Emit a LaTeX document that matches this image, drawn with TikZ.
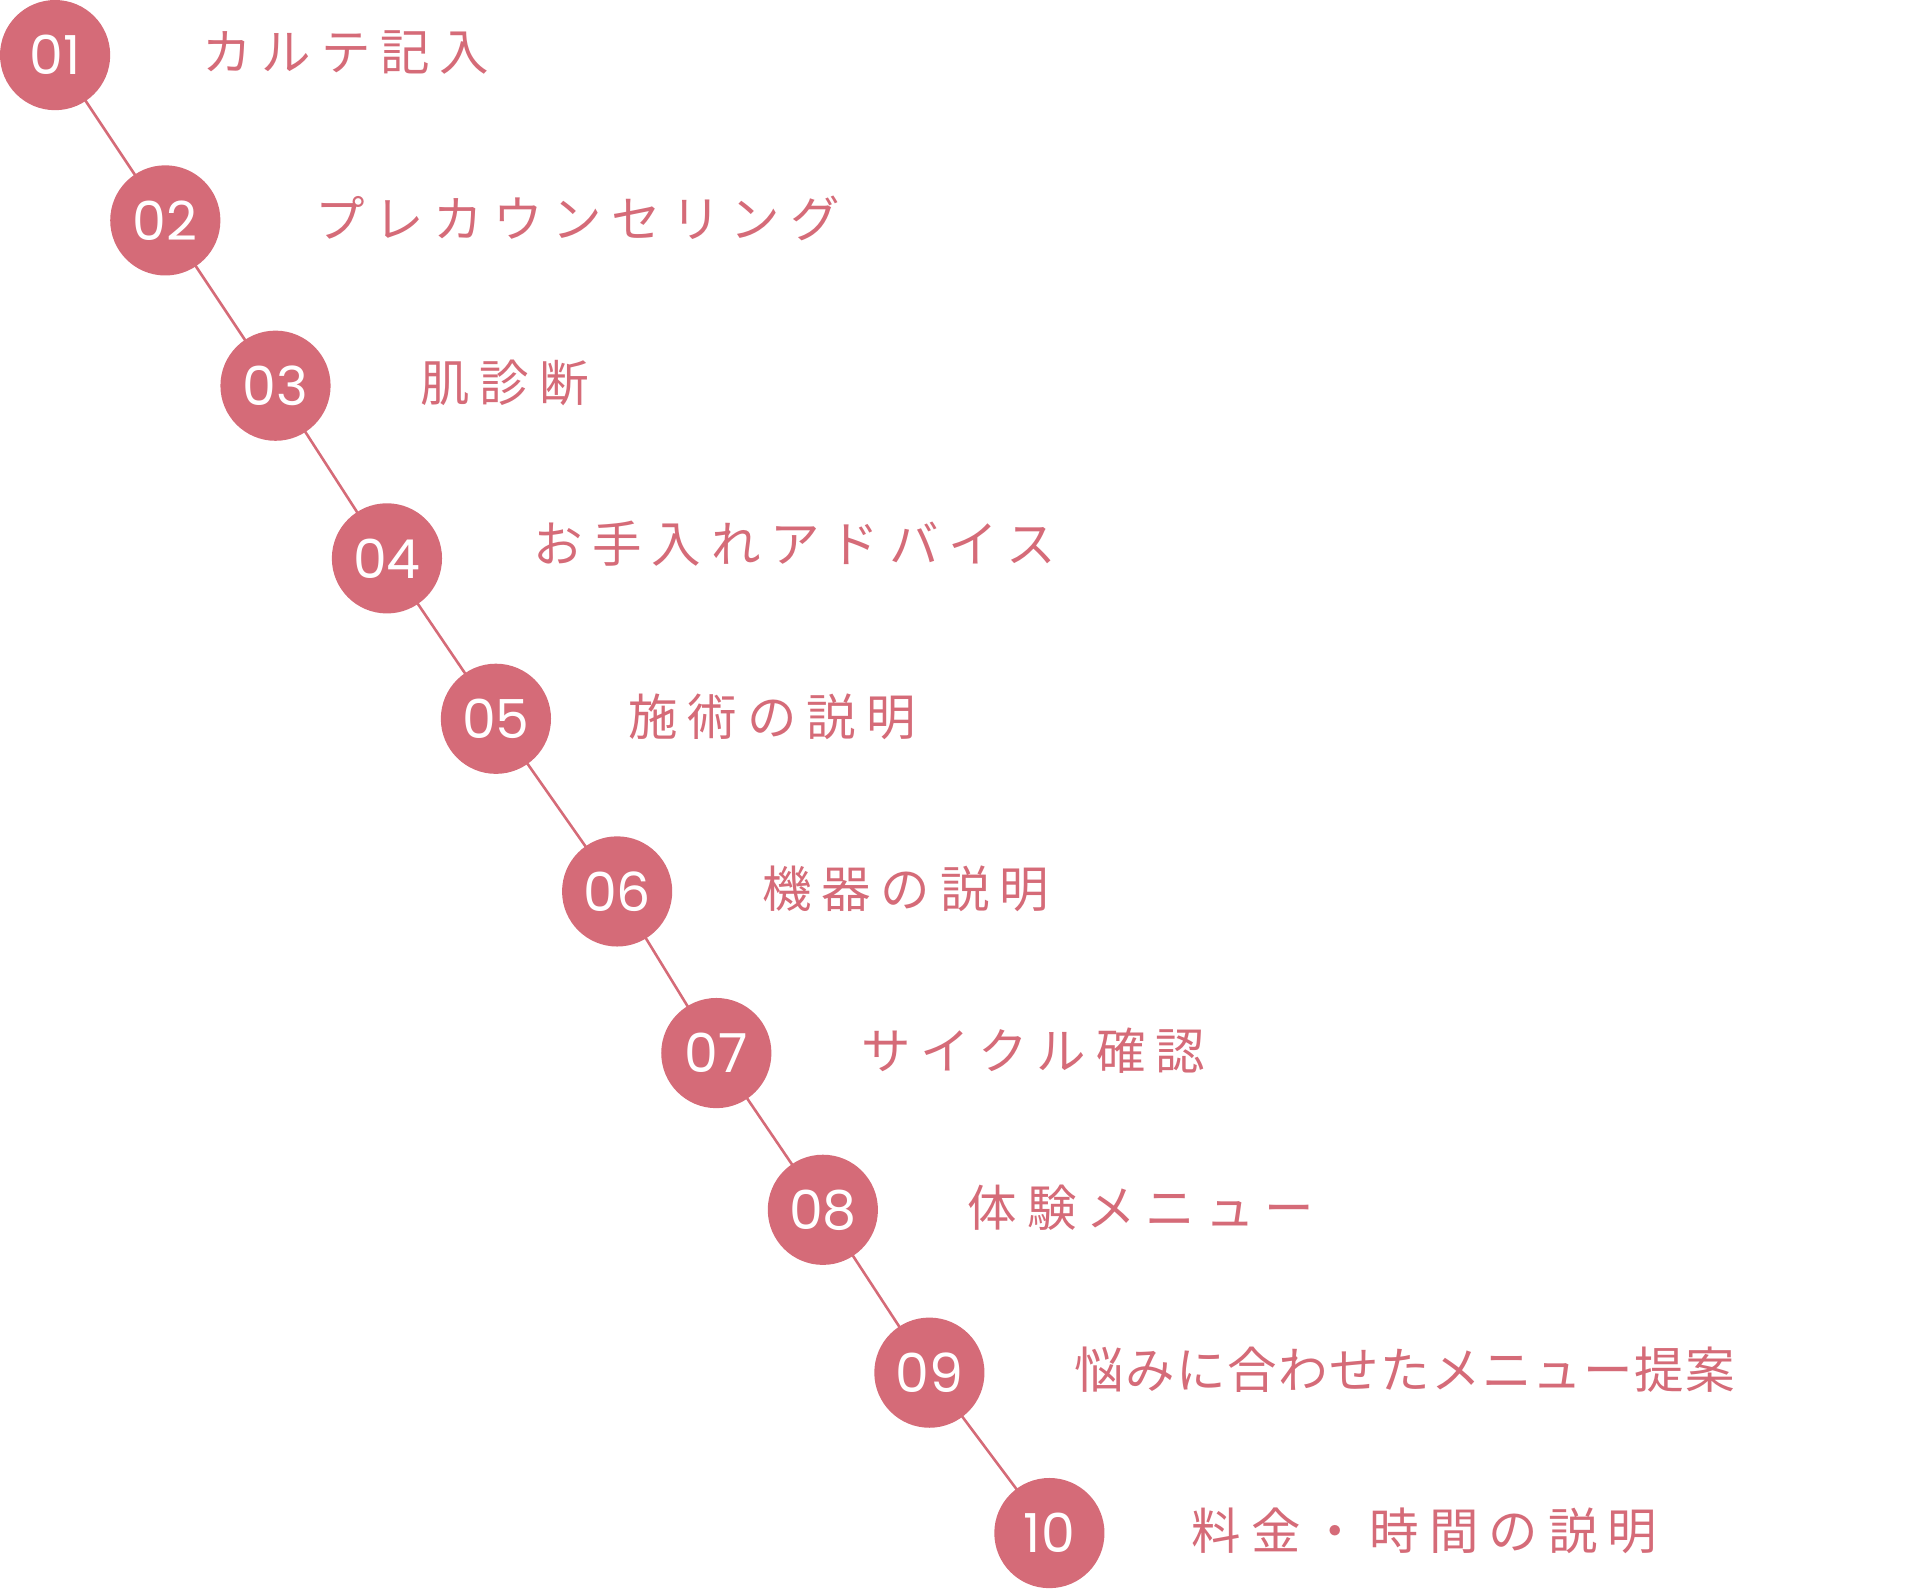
\documentclass[tikz,border=0pt]{standalone}
\usepackage{fontspec}
\setmainfont{Poppins}
\newfontfamily\jpfont[LetterSpace=20]{Noto Sans CJK JP}
\newfontfamily\jpfonttight[LetterSpace=3]{Noto Sans CJK JP}
\usetikzlibrary{calc}
\definecolor{rose}{HTML}{D56B78}

\begin{document}
\begin{tikzpicture}[x=0.02cm, y=-0.02cm]
		\useasboundingbox (0,0) rectangle (1568,1297);
		\tikzset{
			stepdot/.style = {circle, fill = rose, minimum size = 1.8cm, inner sep = 0pt, text = white, font = \fontsize{25}{25}\selectfont},
			steplabel/.style = {anchor = west, text = rose, inner sep = 0pt, font = \fontsize{23}{23}\selectfont\jpfont},
			link/.style = {rose, line width = 1.2pt}
		}
		
		% circles
		\foreach \i/\x/\y/\n in {1/45/45/01, 2/135/180/02, 3/225/315/03, 4/316/456/04, 5/405/587/05,
			6/504/728/06, 7/585/860/07, 8/672/988/08, 9/759/1121/09, 10/857/1252/10}
		{
			\coordinate (c\i) at (\x,\y);
		}
		
		\begin{scope}
			\foreach \i [count = \j from 2] in {1,...,9}
				\draw [link] (c\i) -- (c\j);
		\end{scope}
		
		\foreach \i/\n in {1/01, 2/02, 3/03, 4/04, 5/05, 6/06, 7/07, 8/08, 9/09, 10/10}
			\node [stepdot] (s\i) at (c\i) {\n};
		
		% labels
		\node [steplabel] (t1) at ($ (c1) + (120,-2) $) {カルテ記入};
		\node [steplabel] (t2) at ($ (c2) + (122,-2) $) {プレカウンセリング};
		\node [steplabel] (t3) at ($ (c3) + (118,-2) $) {肌診断};
		\node [steplabel] (t4) at ($ (c4) + (119,-12) $) {お手入れアドバイス};
		\node [steplabel] (t5) at ($ (c5) + (108,-2) $) {施術の説明};
		\node [steplabel] (t6) at ($ (c6) + (118,-2) $) {機器の説明};
		\node [steplabel] (t7) at ($ (c7) + (118,-2) $) {サイクル確認};
		\node [steplabel] (t8) at ($ (c8) + (118,-2) $) {体験メニュー};
		\node [steplabel, font = \fontsize{23}{23}\selectfont\jpfonttight] (t9) at ($ (c9) + (118,-2) $) {悩みに合わせたメニュー提案};
		\node [steplabel] (t10) at ($ (c10) + (116,-2) $) {料金・時間の説明};
	\end{tikzpicture}
\end{document}
